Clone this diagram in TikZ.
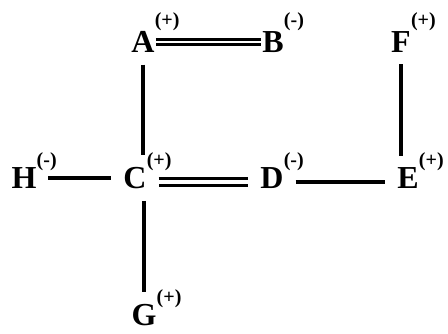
\documentclass[tikz,border=0pt]{standalone}
\usepackage{fontspec}
\setmainfont{Liberation Serif}
\usetikzlibrary{positioning}

\begin{document}
\begin{tikzpicture}[
    x=0.75pt,
    y=-0.75pt,
    atom/.style={
        inner sep=0pt,
        outer sep=0pt,
        font=\fontsize{24}{28}\selectfont\bfseries
    },
    charge/.style={
        inner sep=0pt,
        anchor=south west,
        yshift=-3pt,
        font=\fontsize{15}{18}\selectfont\bfseries
    },
    bond/.style={
        line width=2.5pt,
        draw=black,
        shorten <=9pt,
        shorten >=9pt
    },
    dbond/.style={
        bond,
        double,
        double distance=3pt
    }
]
    % Frame
    \useasboundingbox (0,0) rectangle (448,334);

    % Top row
    \node[atom, label={[charge, yshift=3pt]north east:(+)}] (A) at (143,42) {A};
    \node[atom, label={[charge, yshift=3pt]north east:(-)}] (B) at (273,42) {B};
    \node[atom, label={[charge, yshift=3pt]north east:(+)}] (F) at (401,42) {F};

    % Middle row
    \node[atom, label={[charge]north east:(-)}] (H) at (24,178) {H};
    \node[atom, label={[charge]north east:(+)}] (C) at (135,178) {C};
    \node[atom, label={[charge]north east:(-)}] (D) at (272,178) {D};
    \node[atom, label={[charge]north east:(+)}] (E) at (408,178) {E};

    % Bottom
    \node[atom, label={[charge]north east:(+)}] (G) at (144,315) {G};

    % Bonds
    \draw[dbond, double distance=1.3pt, shorten <=1pt, shorten >=1pt] (A) -- (B);
    \draw[bond] (A.south) -- (A.south |- C.north);
    \draw[bond] (H) -- (C);
    \draw[dbond] ([yshift=-3pt]C.east) -- ([yshift=-3pt]D.west);
    \draw[bond] ([yshift=-3pt]D.east) -- ([yshift=-3pt]E.west);
    \draw[bond] (F.south) -- (F.south |- E.north);
    \draw[bond] (C.south -| G.north) -- (G.north);

\end{tikzpicture}
\end{document}
